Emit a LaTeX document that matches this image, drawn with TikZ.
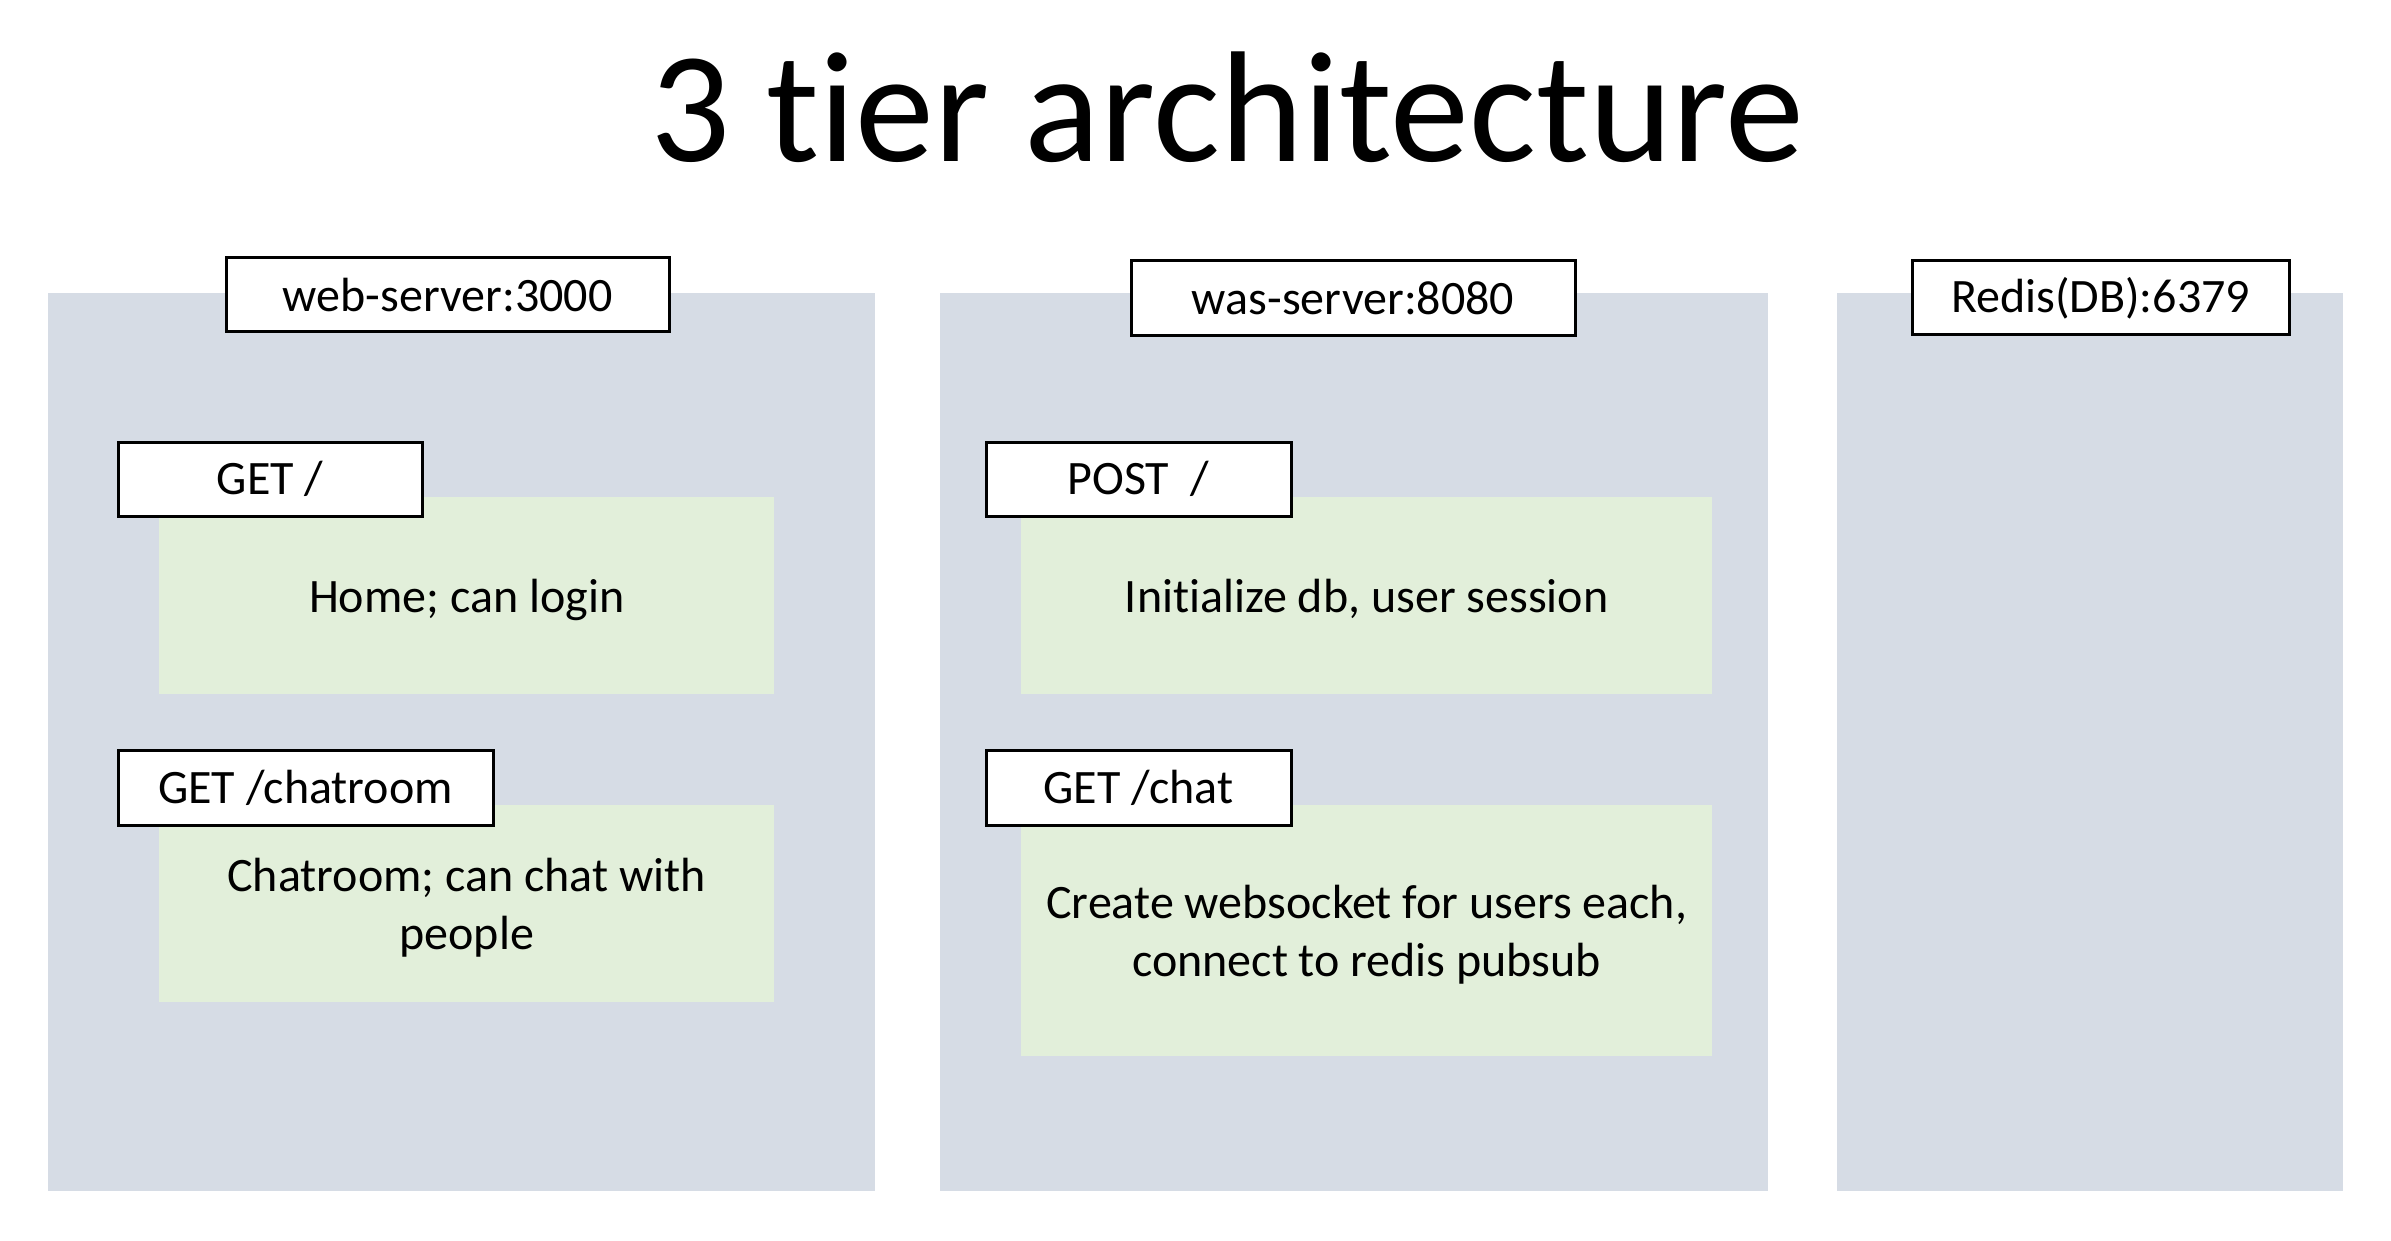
\documentclass[tikz,border=0pt]{standalone}
\usepackage{fontspec}
\setmainfont{Carlito}[Ligatures=NoCommon]
\definecolor{tierbg}{HTML}{D6DCE5}
\definecolor{taskbg}{HTML}{E2EFDA}
\tikzset{
  tier/.style={fill=tierbg, draw=none, inner sep=0pt, anchor=north west},
  task/.style={fill=taskbg, draw=none, inner sep=0pt, anchor=north west, align=center, text depth=0pt, font=\fontsize{48}{57.6}\selectfont},
  tag/.style={fill=white, draw=black, line width=3pt, inner sep=0pt, anchor=north west, font=\fontsize{48}{57.6}\selectfont},
  headline/.style={font=\fontsize{158}{180}\selectfont, anchor=base, inner sep=0pt},
}

\begin{document}
\begin{tikzpicture}[x=1pt, y=-1pt]
  \useasboundingbox (0,0) rectangle (2391,1241);
  \node[headline] (title) at (1227,162) {3 tier architecture};
  \node[tier, minimum width=827pt, minimum height=898pt] (web) at (48,293) {};
  \node[tier, minimum width=828pt, minimum height=898pt] (was) at (940,293) {};
  \node[tier, minimum width=506pt, minimum height=898pt] (db) at (1837,293) {};
  \node[tag, minimum width=443pt, minimum height=74pt] (webtag) at (224.5,256.5) {web-server:3000};
  \node[tag, minimum width=444pt, minimum height=75pt] (wastag) at (1129.5,259.5) {was-server:8080};
  \node[tag, minimum width=377pt, minimum height=74pt] (dbtag) at (1910.5,259.5) {Redis(DB):6379};
  \node[task, minimum width=615pt, minimum height=197pt] (home) at (159,497) {Home; can login};
  \node[task, minimum width=615pt, minimum height=197pt] (chatroom) at (159,805) {Chatroom; can chat with\\people};
  \node[task, minimum width=691pt, minimum height=197pt] (init) at (1021,497) {Initialize db, user session};
  \node[task, minimum width=691pt, minimum height=251pt] (socket) at (1021,805) {Create websocket for users each,\\connect to redis pubsub};
  \node[tag, minimum width=304pt, minimum height=74pt] (gethome) at (116.5,440.5) {GET /};
  \node[tag, minimum width=375pt, minimum height=75pt] (getchatroom) at (116.5,748.5) {GET /chatroom};
  \node[tag, minimum width=305pt, minimum height=74pt] (postroot) at (984.5,440.5) {POST~~/};
  \node[tag, minimum width=305pt, minimum height=75pt] (getchat) at (984.5,748.5) {GET /chat};
\end{tikzpicture}
\end{document}
